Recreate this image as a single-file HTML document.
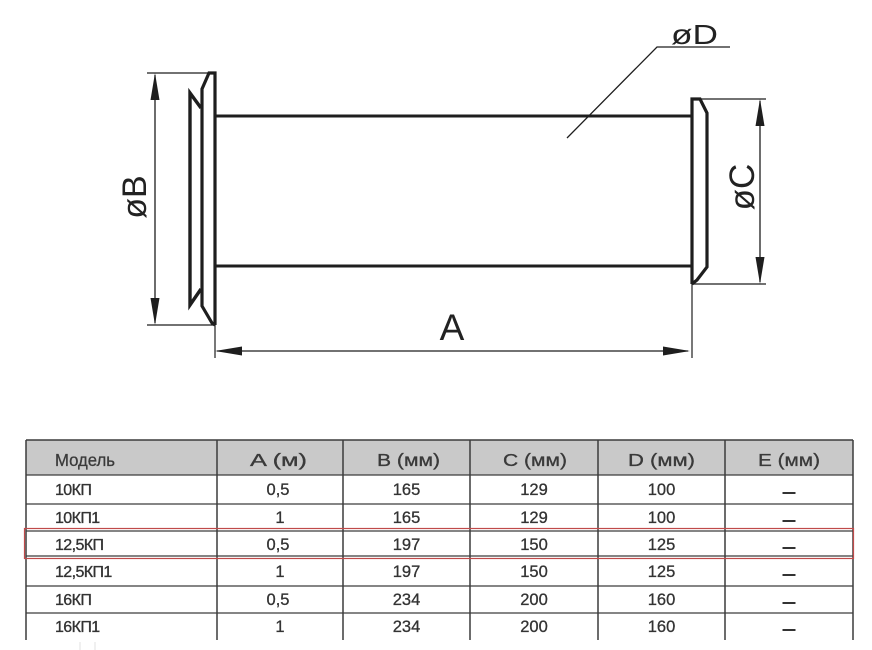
<!DOCTYPE html>
<html><head><meta charset="utf-8"><style>
html,body{margin:0;padding:0;background:#fff;}
svg{display:block;}
text{font-family:"Liberation Sans",sans-serif;}
</style></head><body>
<svg width="872" height="650" viewBox="0 0 872 650" xmlns="http://www.w3.org/2000/svg">
<rect width="872" height="650" fill="#fff"/>
<g fill="none" stroke="#1e1e1e" stroke-linejoin="miter">
  <!-- pipe -->
  <path d="M215,116 H692 M215,266 H692" stroke-width="3"/>
  <!-- left flange -->
  <path d="M215,325 L215,73 L209,73 L202,89 L202,306 L212,323 L215,325" stroke-width="3.2"/>
  <path d="M201,108 L190,93 L190,305 L201,289" stroke-width="3.4"/>
  <!-- right flange -->
  <path d="M692,284 L692,99 L700,99 L707,113 L707,267 L697,280 L692,284" stroke-width="3.2"/>
  <!-- extension lines -->
  <path d="M147,73 H213 M147,325 H213 M215,325 V358 M692,284 V358 M700,99 H766 M692,284 H766" stroke-width="1.2"/>
  <!-- dimension lines -->
  <path d="M155,75 V323 M760,101 V282 M217,351 H688" stroke-width="1.3"/>
  <!-- leader -->
  <path d="M567,138 L657,47 H730" stroke-width="1.3"/>
</g>
<g fill="#1e1e1e">
  <polygon points="155,73 150.5,100 159.5,100"/>
  <polygon points="155,325 150.5,298 159.5,298"/>
  <polygon points="760,99 755.5,126 764.5,126"/>
  <polygon points="760,284 755.5,257 764.5,257"/>
  <polygon points="215,351 242,346.5 242,355.5"/>
  <polygon points="690,351 663,346.5 663,355.5"/>
</g>
<g fill="#222">
  <text x="452" y="340" font-size="37" text-anchor="middle">A</text>
  <text x="671" y="44" font-size="28" textLength="47" lengthAdjust="spacingAndGlyphs">øD</text>
  <text transform="translate(146,197) rotate(-90)" font-size="34" text-anchor="middle">øB</text>
  <text transform="translate(754,187) rotate(-90)" font-size="35" text-anchor="middle">øC</text>
</g>

<!-- table -->
<rect x="26" y="440" width="827" height="35" fill="#c9c9c9"/>
<g stroke="#3c3c3c" fill="none">
  <path d="M26,440 H853" stroke-width="1.5"/>
  <path d="M26,475 H853 M26,504 H853 M26,531 H853 M26,556 H853 M26,586 H853 M26,613 H853" stroke-width="1.2"/>
  <path d="M26,440 V640 M217,440 V640 M343,440 V640 M470,440 V640 M598,440 V640 M725,440 V640 M853,440 V640" stroke-width="1.5"/>
</g>
<rect x="24.5" y="528.5" width="829" height="30" fill="none" stroke="#c04a4a" stroke-width="1.2"/>
<g stroke="#e2e2e2" stroke-width="1">
  <path d="M80,642 V650 M95,642 V650"/>
</g>
<g fill="#3a3a3a" stroke="#3a3a3a" stroke-width="0.3" font-size="17.5">
  <text x="55" y="466" textLength="60" lengthAdjust="spacingAndGlyphs">Модель</text>
  <text x="250" y="466" textLength="57" lengthAdjust="spacingAndGlyphs">A (м)</text>
  <text x="377" y="466" textLength="63" lengthAdjust="spacingAndGlyphs">B (мм)</text>
  <text x="503" y="466" textLength="64" lengthAdjust="spacingAndGlyphs">C (мм)</text>
  <text x="628" y="466" textLength="67" lengthAdjust="spacingAndGlyphs">D (мм)</text>
  <text x="758" y="466" textLength="62" lengthAdjust="spacingAndGlyphs">E (мм)</text>
</g>
<g fill="#333" stroke="#333" stroke-width="0.35" font-size="16" letter-spacing="-0.6">
  <text x="55" y="495">10КП</text>
  <text x="55" y="523">10КП1</text>
  <text x="55" y="550">12,5КП</text>
  <text x="55" y="577">12,5КП1</text>
  <text x="55" y="605">16КП</text>
  <text x="55" y="632">16КП1</text>
</g>
<g fill="#333" stroke="#333" stroke-width="0.3" font-size="16.5" text-anchor="middle">
  <text x="278" y="495">0,5</text><text x="406.5" y="495">165</text><text x="534" y="495">129</text><text x="661.5" y="495">100</text>
  <text x="280" y="523">1</text><text x="406.5" y="523">165</text><text x="534" y="523">129</text><text x="661.5" y="523">100</text>
  <text x="278" y="550">0,5</text><text x="406.5" y="550">197</text><text x="534" y="550">150</text><text x="661.5" y="550">125</text>
  <text x="280" y="577">1</text><text x="406.5" y="577">197</text><text x="534" y="577">150</text><text x="661.5" y="577">125</text>
  <text x="278" y="605">0,5</text><text x="406.5" y="605">234</text><text x="534" y="605">200</text><text x="661.5" y="605">160</text>
  <text x="280" y="632">1</text><text x="406.5" y="632">234</text><text x="534" y="632">200</text><text x="661.5" y="632">160</text>
</g>
<g fill="#333">
  <rect x="782.5" y="492" width="13" height="2"/>
  <rect x="782.5" y="520" width="13" height="2"/>
  <rect x="782.5" y="547" width="13" height="2"/>
  <rect x="782.5" y="574" width="13" height="2"/>
  <rect x="782.5" y="602" width="13" height="2"/>
  <rect x="782.5" y="629" width="13" height="2"/>
</g>
</svg>
</body></html>
